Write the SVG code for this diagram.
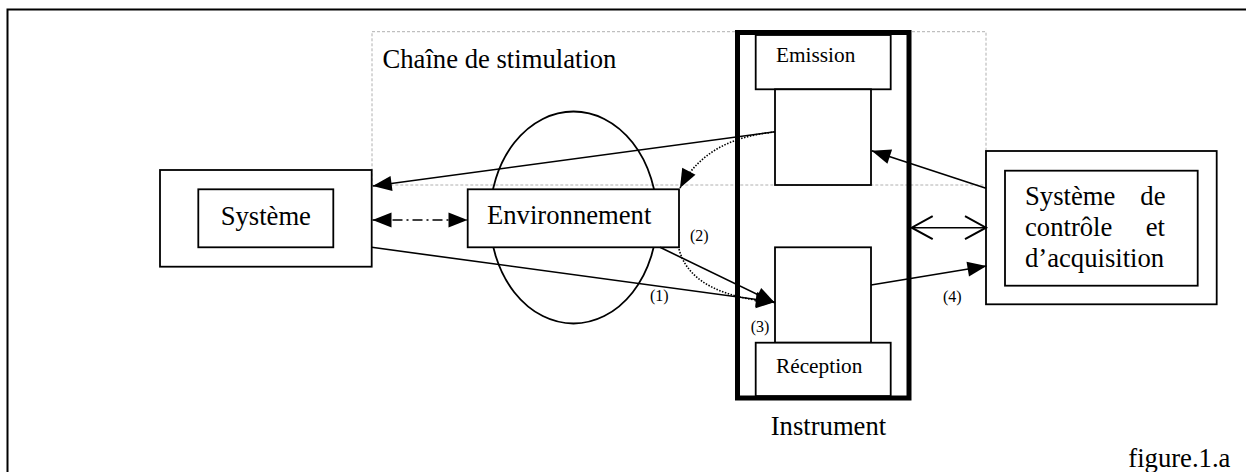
<svg xmlns="http://www.w3.org/2000/svg" width="1246" height="472" viewBox="0 0 1246 472">
<style>
.t{font-family:"Liberation Serif","Times New Roman",serif;fill:#000}
.box{fill:#fff;stroke:#000;stroke-width:1.8}
.ln{fill:none;stroke:#000;stroke-width:1.6}
.dot{fill:none;stroke:#000;stroke-width:1.6;stroke-dasharray:1.5,1.5}
.head{fill:#000;stroke:none}
.open{fill:none;stroke:#000;stroke-width:2}
</style>
<defs>
<marker id="ah" markerUnits="userSpaceOnUse" markerWidth="20" markerHeight="16" refX="19" refY="7.5" orient="auto-start-reverse" overflow="visible">
<path class="head" d="M0,0 L19,7.5 L0,15 z"/>
</marker>
<marker id="oh" markerUnits="userSpaceOnUse" markerWidth="24" markerHeight="26" refX="21" refY="11.5" orient="auto-start-reverse" overflow="visible">
<path class="open" d="M0,0 L21,11.5 L0,23"/>
</marker>
</defs>
<rect width="1246" height="472" fill="#fff"/>
<path d="M7.5,480 V9.5 H1260" fill="none" stroke="#000" stroke-width="2"/>
<g id="chaine">
<rect x="372" y="31.7" width="614" height="153.3" fill="none" stroke="#b0b0b0" stroke-width="1" stroke-dasharray="3,2"/>
<text class="t" x="382.5" y="68.3" font-size="26.67">Chaîne de stimulation</text>
</g>
<g id="environnement">
<ellipse cx="573.5" cy="217.5" rx="83.5" ry="106" fill="none" stroke="#000" stroke-width="1.8"/>
<rect class="box" x="467.7" y="189.3" width="211.3" height="58"/>
<text class="t" x="487" y="224.3" font-size="26.67">Environnement</text>
</g>
<g id="systeme">
<rect class="box" x="160" y="170" width="211.7" height="96.7"/>
<rect class="box" x="198.3" y="189.3" width="135" height="58"/>
<text class="t" x="265.8" y="225" font-size="26.67" text-anchor="middle">Système</text>
</g>
<g id="instrument">
<rect x="737.5" y="32.5" width="171.5" height="365.5" fill="none" stroke="#000" stroke-width="5"/>
<rect class="box" x="755.7" y="35" width="135" height="54.3"/>
<text class="t" x="776" y="61.7" font-size="21.3">Emission</text>
<rect class="box" x="775" y="89.3" width="96" height="95.7"/>
<rect class="box" x="775" y="247.3" width="96" height="95.4"/>
<rect class="box" x="755.7" y="342.7" width="135" height="53.3"/>
<text class="t" x="776" y="373.3" font-size="21.3">Réception</text>
<text class="t" x="770.7" y="435" font-size="26.67">Instrument</text>
</g>
<g id="controle">
<rect class="box" x="986" y="151" width="230.7" height="153.3"/>
<rect class="box" x="1005" y="170.7" width="192.7" height="115"/>
<text class="t" x="1025" y="205" font-size="26.67">Système</text>
<text class="t" x="1165.5" y="205" font-size="26.67" text-anchor="end">de</text>
<text class="t" x="1025" y="235.5" font-size="26.67">contrôle</text>
<text class="t" x="1165" y="235.5" font-size="26.67" text-anchor="end">et</text>
<text class="t" x="1025" y="266.5" font-size="26.67">d’acquisition</text>
</g>
<g id="connectors">
<path class="ln" d="M775,131.7 L372.7,186" marker-end="url(#ah)"/>
<path class="dot" d="M775,132 C735,136 700,150 680,188" marker-end="url(#ah)"/>
<path class="ln" d="M372.5,220 L467.5,220" stroke-dasharray="10,4,2,4" marker-start="url(#ah)" marker-end="url(#ah)"/>
<path class="ln" d="M986,188.3 L871.7,150.7" marker-end="url(#ah)"/>
<path class="ln" d="M371.7,247.3 L775,302" marker-end="url(#ah)"/>
<path class="ln" d="M660,247.3 L775,303" marker-end="url(#ah)"/>
<path class="dot" d="M679,249 C688,285 730,299 775,302" marker-end="url(#ah)"/>
<path class="ln" d="M871,285 L986.5,266" marker-end="url(#ah)"/>
<path class="ln" stroke-width="2" d="M911.7,227.7 L986,227.7" marker-start="url(#oh)" marker-end="url(#oh)"/>
<text class="t" x="650" y="301" font-size="16">(1)</text>
<text class="t" x="690" y="240.5" font-size="16">(2)</text>
<text class="t" x="750.7" y="331.7" font-size="16">(3)</text>
<text class="t" x="943" y="301.7" font-size="16">(4)</text>
</g>
<text class="t" x="1128.3" y="466.7" font-size="26.67">figure.1.a</text>
</svg>
